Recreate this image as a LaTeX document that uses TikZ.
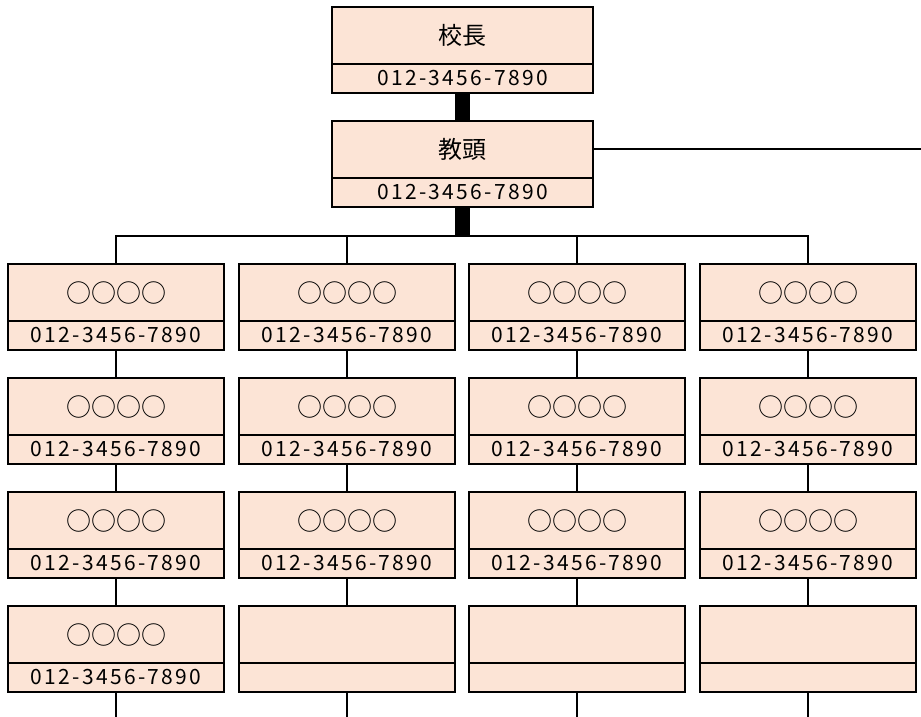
\documentclass[tikz,border=0pt]{standalone}
\usepackage{fontspec}
\newfontfamily\jp{Noto Sans CJK JP}
\newfontfamily\phonefont[LetterSpace=11]{Noto Sans CJK JP}
\definecolor{peach}{HTML}{FCE4D6}
\tikzset{
  orgbox/.style={draw, line width=2.2pt, fill=peach, minimum height=86pt, inner sep=0pt, outer sep=0pt, anchor=north},
  widebox/.style={minimum width=261pt},
  narrowbox/.style={minimum width=216pt},
  divider/.style={line width=2pt},
  conn/.style={line width=1.8pt},
  heavy/.style={line width=15pt},
  titletext/.style={font=\jp\fontsize{24}{24}\selectfont, inner sep=0pt},
  phonetext/.style={font=\phonefont\fontsize{21}{21}\selectfont, inner sep=0pt}
}
\newcommand\orgnode[6]{%
  \node[orgbox,#4] (#1) at (#2,#3) {};
  \draw[divider] ([yshift=-57pt]#1.north west) -- ([yshift=-57pt]#1.north east);
  \node[titletext] (#1t) at ([yshift=-28.5pt]#1.north) {#5};
  \node[phonetext] (#1p) at ([yshift=14.5pt]#1.south) {#6};
}
\newcommand\circs{{\fontsize{25}{25}\selectfont ○○○○}}
\begin{document}
\begin{tikzpicture}[x=1pt,y=-1pt]
\useasboundingbox (0,0) rectangle (921,717);
% top
\orgnode{principal}{462.5}{7}{widebox}{校長}{012-3456-7890}
\orgnode{vice}{462.5}{121}{widebox}{教頭}{012-3456-7890}
% grid
\orgnode{a1}{116}{264}{narrowbox}{\circs}{012-3456-7890}
\orgnode{a2}{116}{378}{narrowbox}{\circs}{012-3456-7890}
\orgnode{a3}{116}{492}{narrowbox}{\circs}{012-3456-7890}
\orgnode{a4}{116}{606}{narrowbox}{\circs}{012-3456-7890}
\orgnode{b1}{347}{264}{narrowbox}{\circs}{012-3456-7890}
\orgnode{b2}{347}{378}{narrowbox}{\circs}{012-3456-7890}
\orgnode{b3}{347}{492}{narrowbox}{\circs}{012-3456-7890}
\orgnode{b4}{347}{606}{narrowbox}{}{}
\orgnode{c1}{577}{264}{narrowbox}{\circs}{012-3456-7890}
\orgnode{c2}{577}{378}{narrowbox}{\circs}{012-3456-7890}
\orgnode{c3}{577}{492}{narrowbox}{\circs}{012-3456-7890}
\orgnode{c4}{577}{606}{narrowbox}{}{}
\orgnode{d1}{808}{264}{narrowbox}{\circs}{012-3456-7890}
\orgnode{d2}{808}{378}{narrowbox}{\circs}{012-3456-7890}
\orgnode{d3}{808}{492}{narrowbox}{\circs}{012-3456-7890}
\orgnode{d4}{808}{606}{narrowbox}{}{}
% coordinates
\coordinate (bus) at (116,236);
\coordinate (viceR) at (921,149);
\coordinate (ea) at (116,717);
\coordinate (eb) at (347,717);
\coordinate (ec) at (577,717);
\coordinate (ed) at (808,717);
% connectors
\draw[heavy] (principal.south) -- (vice.north);
\draw[heavy] (vice.south) -- ([yshift=-0.9pt]vice.south |- bus);
\draw[conn] (vice.east |- viceR) -- (viceR);
\draw[conn] (a1.north) -- (a1.north |- bus) -- (d1.north |- bus) -- (d1.north);
\draw[conn] (b1.north) -- (b1.north |- bus);
\draw[conn] (c1.north) -- (c1.north |- bus);
\foreach \c in {a,b,c,d}{
  \draw[conn] (\c1.south) -- (\c2.north);
  \draw[conn] (\c2.south) -- (\c3.north);
  \draw[conn] (\c3.south) -- (\c4.north);
  \draw[conn] (\c4.south) -- (e\c);
}
\end{tikzpicture}
\end{document}
